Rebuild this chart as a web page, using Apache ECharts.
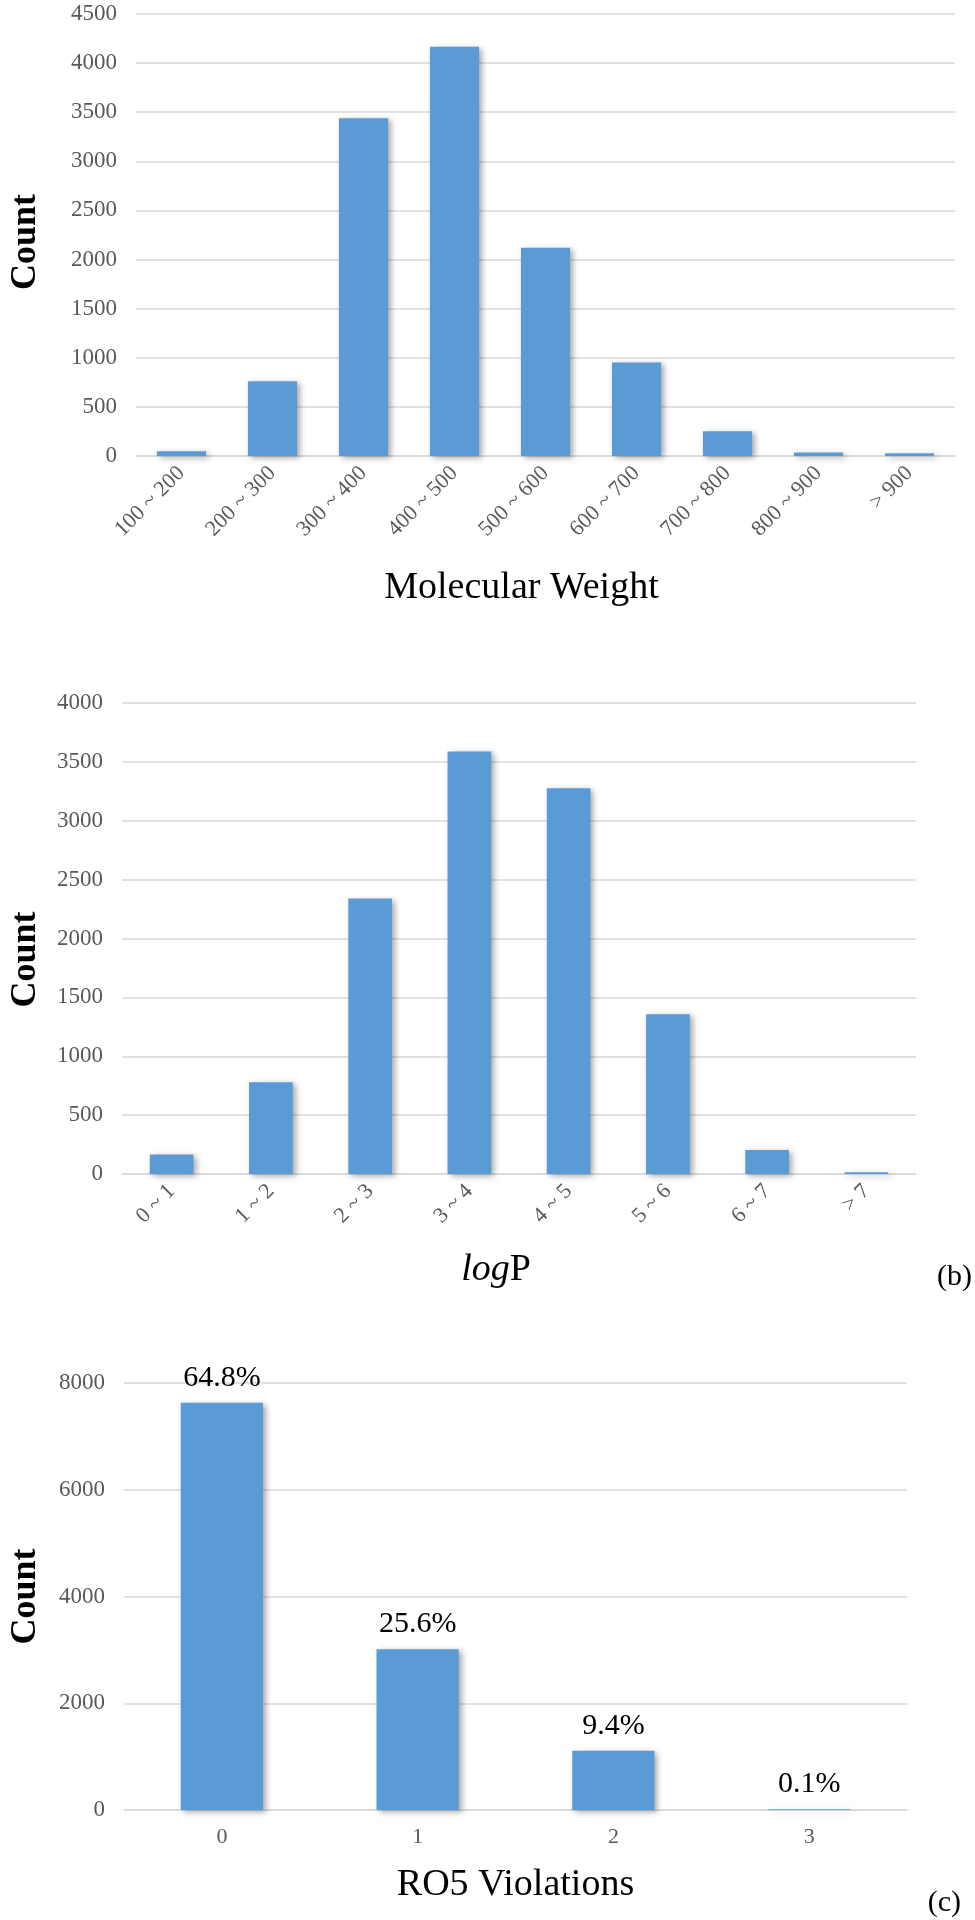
<!DOCTYPE html>
<html>
<head>
<meta charset="utf-8">
<script src="https://cdn.jsdelivr.net/npm/echarts@6/dist/echarts.min.js"></script>
<style>
html,body{margin:0;padding:0;background:#fff;}
#chart{width:975px;height:1920px;}
</style>
</head>
<body>
<div id="chart"></div>
<script>
// ---- Data ----
const mwCategories = ['100 ~ 200','200 ~ 300','300 ~ 400','400 ~ 500','500 ~ 600','600 ~ 700','700 ~ 800','800 ~ 900','> 900'];
const mwCounts = [48, 760, 3438, 4166, 2119, 953, 252, 35, 27];
const mwTicks = {min: 0, max: 4500, interval: 500};

const logpCategories = ['0 ~ 1','1 ~ 2','2 ~ 3','3 ~ 4','4 ~ 5','5 ~ 6','6 ~ 7','> 7'];
const logpCounts = [166, 780, 2339, 3589, 3275, 1357, 204, 15];
const logpTicks = {min: 0, max: 4000, interval: 500};

const ro5Categories = ['0','1','2','3'];
const ro5Counts = [7628, 3013, 1110, 12];
const ro5Percent = ['64.8%','25.6%','9.4%','0.1%'];
const ro5Ticks = {min: 0, max: 8000, interval: 2000};

// ---- Styles ----
const SERIF = '"Liberation Serif", "Times New Roman", serif';
const BAR_COLOR = '#5B9BD5';
const GRID_COLOR = '#d9d9d9';
const TICK_COLOR = '#595959';

const barItemStyle = {
  color: BAR_COLOR,
  shadowColor: 'rgba(0,0,0,0.35)',
  shadowBlur: 6,
  shadowOffsetX: 3,
  shadowOffsetY: 2
};

function xAxisCfg(gridIndex, cats, name, gap, rotate, namePadding) {
  const isRich = name.indexOf('{') >= 0;
  const nts = {fontFamily: SERIF, fontSize: 38, color: '#000', padding: namePadding || 0};
  if (isRich) {
    nts.rich = {
      i: {fontFamily: SERIF, fontSize: 38, fontStyle: 'italic', color: '#000'},
      n: {fontFamily: SERIF, fontSize: 38, color: '#000'}
    };
  }
  return {
    type: 'category', gridIndex: gridIndex, data: cats,
    axisLine: {show: true, lineStyle: {color: GRID_COLOR, width: 1.5}},
    axisTick: {show: false},
    axisLabel: {
      rotate: rotate, margin: rotate ? 14 : 16, interval: 0,
      fontFamily: SERIF, fontSize: 22, color: TICK_COLOR
    },
    name: name, nameLocation: 'middle', nameGap: gap,
    nameTextStyle: nts
  };
}

function yAxisCfg(gridIndex, ticks, gap, namePadding) {
  return {
    type: 'value', gridIndex: gridIndex,
    min: ticks.min, max: ticks.max, interval: ticks.interval,
    axisLine: {show: false}, axisTick: {show: false},
    splitLine: {show: true, lineStyle: {color: GRID_COLOR, width: 1.5}},
    axisLabel: {margin: 19, fontFamily: SERIF, fontSize: 23, color: TICK_COLOR,
      formatter: function (v) { return String(v); }},
    name: 'Count', nameLocation: 'middle', nameGap: gap,
    nameTextStyle: {fontFamily: SERIF, fontSize: 36, fontWeight: 'bold', color: '#000',
      padding: namePadding || 0}
  };
}

const chart = echarts.init(document.getElementById('chart'), null, {renderer: 'canvas'});

const option = {
  backgroundColor: '#fff',
  animation: false,
  grid: [
    {left: 127, width: 828, top: 14, height: 442},
    {left: 113, width: 803, top: 703, height: 471},
    {left: 115, width: 792, top: 1383, height: 427}
  ],
  xAxis: [
    xAxisCfg(0, mwCategories, 'Molecular Weight', 113, 45, [0, 48, 0, 0]),
    xAxisCfg(1, logpCategories, '{i|log}{n|P}', 77, 45, [0, 46, 0, 0]),
    xAxisCfg(2, ro5Categories, 'RO5 Violations', 56, 0, 0)
  ],
  yAxis: [
    yAxisCfg(0, mwTicks, 92, [0, 14, 0, 0]),
    yAxisCfg(1, logpTicks, 78, [0, 42, 0, 0]),
    yAxisCfg(2, ro5Ticks, 80, 0)
  ],
  series: [
    {type: 'bar', xAxisIndex: 0, yAxisIndex: 0, data: mwCounts,
     barCategoryGap: '46%', itemStyle: barItemStyle},
    {type: 'bar', xAxisIndex: 1, yAxisIndex: 1, data: logpCounts,
     barCategoryGap: '56%', itemStyle: barItemStyle},
    {type: 'bar', xAxisIndex: 2, yAxisIndex: 2, data: ro5Counts,
     barCategoryGap: '58%', itemStyle: barItemStyle,
     label: {show: true, position: 'top', distance: 10,
       fontFamily: SERIF, fontSize: 30, color: '#000',
       formatter: function (p) { return ro5Percent[p.dataIndex]; }}}
  ],
  graphic: [
    {type: 'text', right: 3, top: 1262,
     style: {text: '(b)', fontFamily: SERIF, fontSize: 30, fill: '#000'}},
    {type: 'text', right: 14, top: 1888,
     style: {text: '(c)', fontFamily: SERIF, fontSize: 30, fill: '#000'}}
  ]
};

chart.setOption(option);
</script>
</body>
</html>
